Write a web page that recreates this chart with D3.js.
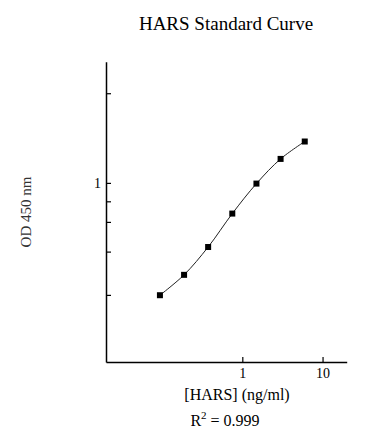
<!DOCTYPE html>
<html>
<head>
<meta charset="utf-8">
<style>
  body { margin: 0; background: #fff; }
  text { font-family: "Liberation Serif", "Times New Roman", serif; }
</style>
</head>
<body>
<div id="chart"></div>
<script src="https://cdn.jsdelivr.net/npm/d3@7"></script>
<script>
// standard concentrations (ng/ml) and measured OD 450
var conc = [0.094, 0.188, 0.375, 0.75, 1.5, 3, 6];
var od = [0.526, 0.591, 0.693, 0.839, 0.996, 1.147, 1.267];
var xTicks = [1, 10];
var yTicks = [0.527, 0.675, 0.8, 0.9, 1, 1.67];
var yLabelled = [1];

var w = 388, h = 444;
var mLeft = 106, mRight = 346.7, mTop = 61.7, mBottom = 362;

var svg = d3.select("#chart").append("svg").attr("width", w).attr("height", h);

var x = d3.scaleLog().domain([0.02, 20]).range([mLeft, mRight]);
var y = d3.scaleLog().domain([0.359, 2]).range([mBottom, mTop]);

// axes
var xAxis = d3.axisBottom(x).tickValues(xTicks).tickSize(-5).tickSizeOuter(0).tickPadding(6)
     .tickFormat(d3.format("d"));
var gx = svg.append("g").attr("transform", "translate(0," + mBottom + ")").call(xAxis);

var yAxis = d3.axisLeft(y).tickValues(yTicks).tickSize(-5).tickSizeOuter(0).tickPadding(5)
     .tickFormat(function (d) { return yLabelled.indexOf(d) >= 0 ? d : ""; });
var gy = svg.append("g").attr("transform", "translate(" + mLeft + ",0)").call(yAxis);

[gx, gy].forEach(function (g) {
     g.select(".domain").attr("stroke", "#000").attr("stroke-width", 1.5);
     g.selectAll(".tick line").attr("stroke", "#000").attr("stroke-width", 1.2);
     g.selectAll(".tick text").attr("fill", "#000").style("font-size", "14px");
});

// curve through the standards
var pts = conc.map(function (c, i) { return [c, od[i]]; });
var line = d3.line()
     .x(function (d) { return x(d[0]); })
     .y(function (d) { return y(d[1]); })
     .curve(d3.curveCatmullRom);

svg.append("path").datum(pts).attr("d", line)
     .attr("fill", "none").attr("stroke", "#222").attr("stroke-width", 1);

svg.selectAll("rect.pt").data(pts).enter().append("rect")
     .attr("class", "pt")
     .attr("x", function (d) { return x(d[0]) - 3; })
     .attr("y", function (d) { return y(d[1]) - 3; })
     .attr("width", 6).attr("height", 6)
     .attr("fill", "#000");

// texts
svg.append("text").attr("x", 226).attr("y", 30).attr("text-anchor", "middle")
     .style("font-size", "19px").text("HARS Standard Curve");

svg.append("text").attr("transform", "translate(31,212) rotate(-90)").attr("text-anchor", "middle")
     .style("font-size", "15px").attr("fill", "#333").text("OD 450 nm");

svg.append("text").attr("x", 237).attr("y", 400).attr("text-anchor", "middle")
     .style("font-size", "16px").text("[HARS] (ng/ml)");

var r2 = svg.append("text").attr("x", 225).attr("y", 426).attr("text-anchor", "middle")
     .style("font-size", "16px");
r2.append("tspan").text("R");
r2.append("tspan").attr("dy", -7).style("font-size", "11px").text("2");
r2.append("tspan").attr("dy", 7).text(" = 0.999");
</script>
</body>
</html>
